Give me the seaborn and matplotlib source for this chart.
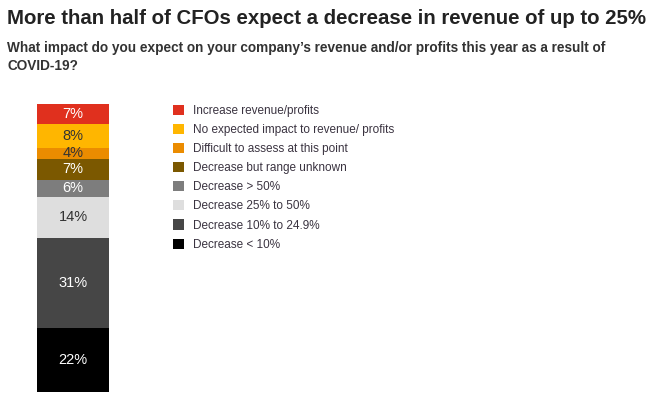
import matplotlib
matplotlib.use("Agg")
import matplotlib.pyplot as plt
import matplotlib.patches as mpatches
import seaborn as sns

# Survey data, bottom segment first
categories = [
    "Decrease < 10%",
    "Decrease 10% to 24.9%",
    "Decrease 25% to 50%",
    "Decrease > 50%",
    "Decrease but range unknown",
    "Difficult to assess at this point",
    "No expected impact to revenue/ profits",
    "Increase revenue/profits",
]
values = [22, 31, 14, 6, 7, 4, 8, 7]
colors = ["#000000", "#464646", "#dedede", "#7d7d7d",
          "#7b5800", "#eb8c00", "#ffb600", "#e0301e"]
label_colors = ["white", "white", "#333333", "white",
                "white", "#333333", "#333333", "white"]

sns.set_theme(style="white")
plt.rcParams["font.family"] = ["Liberation Sans", "DejaVu Sans"]

fig = plt.figure(figsize=(6.51, 3.96), dpi=100)
ax = fig.add_axes([37 / 651, 4 / 396, 72 / 651, 288 / 396])

bottom = 0
for cat, val, col, tcol in zip(categories, values, colors, label_colors):
    sns.barplot(x=[0], y=[val], bottom=bottom, color=col, width=1.0,
                saturation=1, ax=ax, edgecolor="none", linewidth=0)
    ax.text(0, bottom + val / 2, f"{val}%", ha="center", va="center",
            color=tcol, fontsize=10.5)
    bottom += val

ax.set_xlim(-0.5, 0.5)
ax.set_ylim(0, sum(values))
ax.set_axis_off()

# Legend, top entry first
handles = [mpatches.Patch(facecolor=c, edgecolor="none")
           for c in colors[::-1]]
fig.legend(handles, categories[::-1], loc="upper left",
           bbox_to_anchor=(168 / 651, 1 - 100 / 396), frameon=False,
           fontsize=8.5, handlelength=0.95, handleheight=0.95,
           handletextpad=0.75, labelspacing=0.59, borderaxespad=0,
           labelcolor="#3a3340")

fig.text(7 / 651, 1 - 19 / 396,
         "More than half of CFOs expect a decrease in revenue of up to 25%",
         fontsize=14.7, fontweight="bold", color="#222222", va="center")
fig.text(7 / 651, 1 - 57 / 396,
         "What impact do you expect on your company\u2019s revenue and/or profits this year as a result of\nCOVID-19?",
         fontsize=9.8, fontweight="bold", color="#333333", va="center",
         linespacing=1.35)

fig.savefig("out.png", dpi=100)
